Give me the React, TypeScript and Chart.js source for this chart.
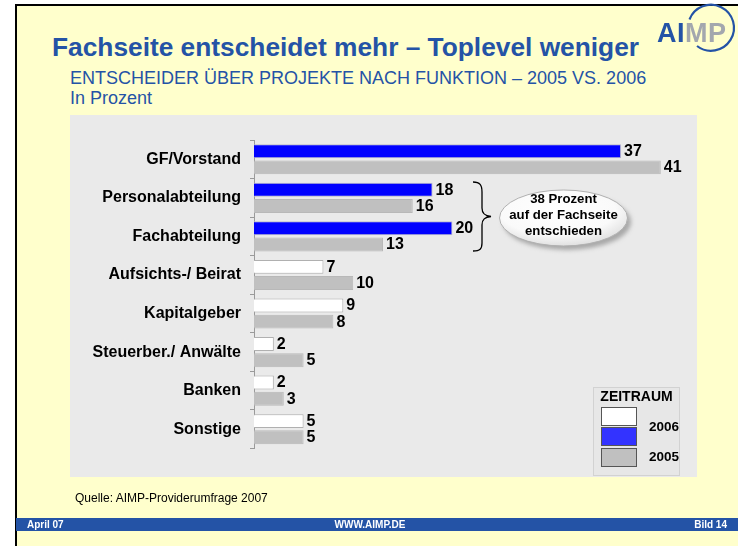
import React, { useEffect, useRef } from "react";
import { Chart, registerables } from "chart.js";

Chart.register(...registerables);

const categories = [
  "GF/Vorstand",
  "Personalabteilung",
  "Fachabteilung",
  "Aufsichts-/ Beirat",
  "Kapitalgeber",
  "Steuerber./ Anwälte",
  "Banken",
  "Sonstige",
];
const values2006 = [37, 18, 20, 7, 9, 2, 2, 5];
const values2005 = [41, 16, 13, 10, 8, 5, 3, 5];
const seriesLabels = ["2006", "2005"];
const highlightedCount = 3;
const xMax = 45;

const titleText = "Fachseite entscheidet mehr – Toplevel weniger";
const subtitleText = "ENTSCHEIDER ÜBER PROJEKTE NACH FUNKTION – 2005 VS. 2006";
const unitText = "In Prozent";
const sourceText = "Quelle: AIMP-Providerumfrage 2007";
const bubbleLines = ["38 Prozent", "auf der Fachseite", "entschieden"];
const legendTitle = "ZEITRAUM";
const footerLeft = "April 07";
const footerCenter = "WWW.AIMP.DE";
const footerRight = "Bild 14";

const FONT = "'Liberation Sans', Arial, Helvetica, sans-serif";
const BLUE_TEXT = "#2453A6";

const valueLabels = {
  id: "valueLabels",
  afterDatasetsDraw(chart: any) {
    const ctx = chart.ctx;
    ctx.save();
    ctx.font = `bold 16px ${FONT}`;
    ctx.fillStyle = "#000";
    ctx.textAlign = "left";
    ctx.textBaseline = "middle";
    chart.data.datasets.forEach((ds: any, di: number) => {
      const meta = chart.getDatasetMeta(di);
      meta.data.forEach((el: any, i: number) => {
        ctx.fillText(String(ds.data[i]), el.x + 3, el.y + 0.5);
      });
    });
    ctx.restore();
  },
};

function BarChart() {
  const ref = useRef<HTMLCanvasElement | null>(null);
  useEffect(() => {
    if (!ref.current) return;
    const chart = new Chart(ref.current, {
      type: "bar",
      data: {
        labels: categories,
        datasets: [
          {
            label: seriesLabels[0],
            data: values2006,
            backgroundColor: (c: any) => (c.dataIndex < highlightedCount ? "#0000FF" : "#FFFFFF"),
            borderColor: (c: any) => (c.dataIndex < highlightedCount ? "#B8B8C8" : "#B0B0B0"),
            borderWidth: 1,
            categoryPercentage: 0.84,
            barPercentage: 0.86,
          },
          {
            label: seriesLabels[1],
            data: values2005,
            backgroundColor: "#C0C0C0",
            borderColor: "#B8B8B8",
            borderWidth: 1,
            categoryPercentage: 0.84,
            barPercentage: 0.86,
          },
        ],
      },
      options: {
        indexAxis: "y",
        responsive: true,
        maintainAspectRatio: false,
        animation: false,
        layout: { padding: { top: 140, bottom: 97.5, left: 0, right: 37.5 } },
        plugins: { legend: { display: false }, tooltip: { enabled: false } },
        scales: {
          x: { display: false, min: 0, max: xMax },
          y: {
            grid: {
              offset: true,
              drawOnChartArea: false,
              drawTicks: true,
              tickLength: 4,
              color: "#9A9A9A",
            },
            border: { display: true, color: "#9A9A9A", width: 1 },
            ticks: {
              autoSkip: false,
              color: "#000",
              padding: 9,
              font: { family: FONT, weight: "bold", size: 16 },
            },
            afterFit: (s: any) => {
              s.width = 254;
            },
          },
        },
      } as any,
      plugins: [valueLabels],
    });
    return () => chart.destroy();
  }, []);
  return (
    <div style={{ position: "absolute", left: 0, top: 0, width: 738, height: 546 }}>
      <canvas ref={ref} />
    </div>
  );
}

const abs = (o: React.CSSProperties): React.CSSProperties => ({ position: "absolute", ...o });

export default function App() {
  return (
    <div
      style={{
        position: "absolute",
        left: 0,
        top: 0,
        width: 738,
        height: 546,
        overflow: "hidden",
        background: "#FFFFFF",
        fontFamily: FONT,
      }}
    >
      {/* slide background */}
      <div style={abs({ left: 15, top: 4, width: 740, height: 560, background: "#FFFFCC", borderLeft: "2.5px solid #000", borderTop: "2.5px solid #000" })} />
      {/* grey panel */}
      <div style={abs({ left: 70, top: 115, width: 627, height: 362, background: "#EAEAEA" })} />

      {/* titles */}
      <div style={abs({ left: 52, top: 33.8, fontSize: 26.3, lineHeight: "26px", fontWeight: "bold", color: BLUE_TEXT, whiteSpace: "nowrap" })}>
        {titleText}
      </div>
      <div style={abs({ left: 70, top: 68.8, fontSize: 18, lineHeight: "18px", color: BLUE_TEXT, whiteSpace: "nowrap" })}>
        {subtitleText}
      </div>
      <div style={abs({ left: 70, top: 88.8, fontSize: 18, lineHeight: "18px", color: BLUE_TEXT, whiteSpace: "nowrap" })}>
        {unitText}
      </div>

      <BarChart />

      {/* overlays: brace, bubble, logo ring */}
      <svg width={738} height={546} style={abs({ left: 0, top: 0 })}>
        <defs>
          <filter id="blur" x="-20%" y="-20%" width="140%" height="140%">
            <feGaussianBlur stdDeviation="2" />
          </filter>
          <radialGradient id="bub" cx="45%" cy="35%" r="70%">
            <stop offset="0%" stopColor="#FFFFFF" />
            <stop offset="65%" stopColor="#FAFAFA" />
            <stop offset="100%" stopColor="#DADADA" />
          </radialGradient>
        </defs>
        <path
          d="M473,182 C480,182 482,185 482,192 L482,208 C482,214 485,216 491,216.5 C485,217 482,219 482,225 L482,243 C482,249 480,251 473,251"
          fill="none"
          stroke="#000"
          strokeWidth={1.3}
        />
        <ellipse cx={567} cy={222} rx={64} ry={28} fill="#A8A8A8" filter="url(#blur)" />
        <ellipse cx={563.5} cy={218} rx={64} ry={28} fill="url(#bub)" stroke="#B0B0B0" strokeWidth={1} />
        <path d="M689.5,19.5 A23,23 0 1 1 697,46" fill="none" stroke={BLUE_TEXT} strokeWidth={2.2} />
      </svg>

      {/* bubble text */}
      <div style={abs({ left: 493.5, top: 191, width: 140, textAlign: "center", fontSize: 13.2, lineHeight: "16px", fontWeight: "bold", color: "#000" })}>
        {bubbleLines.map((l) => (
          <div key={l}>{l}</div>
        ))}
      </div>

      {/* logo text */}
      <div style={abs({ left: 657, top: 20, fontSize: 27, lineHeight: "27px", fontWeight: "bold", whiteSpace: "nowrap", letterSpacing: 0.5 })}>
        <span style={{ color: BLUE_TEXT }}>AI</span>
        <span style={{ color: "#A3A7AE" }}>MP</span>
      </div>

      {/* legend */}
      <div style={abs({ left: 593, top: 387, width: 87, height: 89, background: "#E7E7E7", border: "1px solid #D2D2D2", boxSizing: "border-box" })} />
      <div style={abs({ left: 593, top: 389, width: 87, textAlign: "center", fontSize: 14, lineHeight: "14px", fontWeight: "bold", color: "#000" })}>
        {legendTitle}
      </div>
      <div style={abs({ left: 601, top: 407, width: 36, height: 19, background: "#FFFFFF", border: "1px solid #555", boxSizing: "border-box" })} />
      <div style={abs({ left: 601, top: 427, width: 36, height: 19, background: "#3333FF", border: "1px solid #555", boxSizing: "border-box" })} />
      <div style={abs({ left: 601, top: 448, width: 36, height: 19, background: "#C0C0C0", border: "1px solid #555", boxSizing: "border-box" })} />
      <div style={abs({ left: 649, top: 420, fontSize: 13.5, lineHeight: "14px", fontWeight: "bold", color: "#000" })}>
        {seriesLabels[0]}
      </div>
      <div style={abs({ left: 649, top: 450, fontSize: 13.5, lineHeight: "14px", fontWeight: "bold", color: "#000" })}>
        {seriesLabels[1]}
      </div>

      {/* source */}
      <div style={abs({ left: 75, top: 491.8, fontSize: 12, lineHeight: "12px", color: "#000", whiteSpace: "nowrap" })}>
        {sourceText}
      </div>

      {/* footer */}
      <div style={abs({ left: 16, top: 518, width: 730, height: 13, background: "#2453A6" })} />
      <div style={abs({ left: 27, top: 519.5, fontSize: 10, lineHeight: "10px", fontWeight: "bold", color: "#FFF", whiteSpace: "nowrap" })}>
        {footerLeft}
      </div>
      <div style={abs({ left: 270, width: 200, top: 519.5, textAlign: "center", fontSize: 10, lineHeight: "10px", fontWeight: "bold", color: "#FFF", whiteSpace: "nowrap" })}>
        {footerCenter}
      </div>
      <div style={abs({ left: 627, width: 100, top: 519.5, textAlign: "right", fontSize: 10, lineHeight: "10px", fontWeight: "bold", color: "#FFF", whiteSpace: "nowrap" })}>
        {footerRight}
      </div>
    </div>
  );
}
